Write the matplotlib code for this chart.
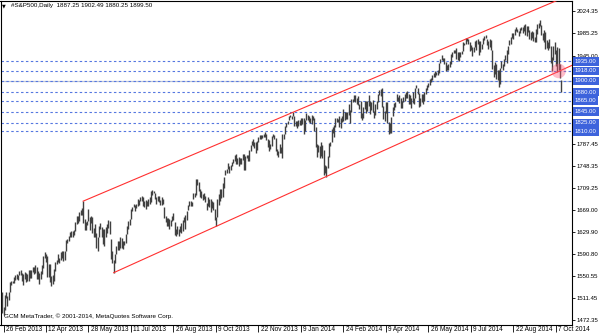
import matplotlib
matplotlib.use("Agg")
import matplotlib.pyplot as plt
import matplotlib.transforms as mtransforms
import numpy as np

# ---------------- data (daily bars, 25 Feb 2013 .. 13 Oct 2014) ----------------
highs = [
    1523, 1496, 1517, 1522,
    1516, 1522, 1540, 1542, 1542, 1549, 1553, 1554, 1553, 1560, 1561, 1556, 1554, 1559, 1556, 1555, 1562, 1561, 1561, 1567,
    1568, 1571, 1568, 1560, 1556, 1560, 1571, 1586, 1594, 1590, 1586, 1572, 1572, 1551, 1553, 1563, 1577, 1580, 1590, 1583, 1594, 1595,
    1595, 1596, 1616, 1617, 1623, 1630, 1632, 1631, 1633, 1648, 1659, 1658, 1665, 1670, 1672, 1685, 1653, 1647, 1650, 1671, 1657, 1659, 1656,
    1637, 1644, 1628, 1620, 1641, 1646, 1638, 1635, 1636, 1638, 1644, 1651, 1650, 1617, 1596, 1580, 1591, 1604, 1613, 1613,
    1621, 1619, 1614, 1613, 1627, 1640, 1649, 1653, 1671, 1675, 1680, 1679, 1680, 1688, 1687, 1693, 1694, 1693, 1686, 1687, 1685, 1688, 1693,
    1703, 1705, 1704, 1700, 1692, 1695, 1694, 1687, 1692, 1688, 1675, 1659, 1654, 1654, 1653, 1652, 1659, 1664, 1648, 1636, 1641, 1636,
    1640, 1646, 1651, 1656, 1660, 1667, 1679, 1685, 1685, 1683, 1700, 1700, 1724, 1725, 1720, 1706, 1703, 1697, 1699, 1694, 1682,
    1692, 1689, 1688, 1686, 1683, 1671, 1657, 1688, 1698, 1706, 1706, 1717, 1728, 1740, 1743, 1754, 1748, 1749, 1755, 1760, 1767, 1770, 1763,
    1764, 1763, 1763, 1769, 1769, 1766, 1768, 1767, 1777, 1786, 1793, 1797, 1790, 1791, 1793, 1800, 1803, 1803, 1803, 1805, 1809,
    1806, 1796, 1795, 1788, 1801, 1806, 1803, 1798, 1778, 1775, 1787, 1782, 1806, 1806, 1819, 1825, 1828, 1838, 1840, 1837, 1844,
    1837, 1829, 1828, 1831, 1831, 1834, 1834, 1834, 1830, 1842, 1839, 1837, 1833, 1840, 1837, 1833, 1817, 1787, 1785, 1783, 1790, 1785,
    1776, 1750, 1747, 1765, 1789, 1791, 1814, 1818, 1821, 1833, 1833, 1832, 1838, 1834, 1837, 1850, 1844, 1844, 1845, 1859,
    1848, 1867, 1867, 1875, 1875, 1869, 1873, 1859, 1865, 1843, 1853, 1865, 1865, 1864, 1875, 1864, 1863, 1866, 1847, 1858, 1864,
    1877, 1884, 1885, 1888, 1855, 1846, 1863, 1863, 1826, 1825, 1835, 1853, 1861, 1863, 1876, 1871, 1875, 1869, 1865, 1872, 1876,
    1880, 1882, 1876, 1875, 1870, 1880, 1870, 1888, 1893, 1888, 1879, 1869, 1877, 1876, 1880, 1887, 1892, 1896, 1903, 1905, 1911, 1915,
    1917, 1916, 1920, 1933, 1940, 1947, 1942, 1942, 1934, 1928, 1931, 1935, 1949, 1951, 1955, 1955, 1959, 1952, 1951, 1952, 1953,
    1970, 1968, 1977, 1977, 1975, 1969, 1964, 1961, 1960, 1971, 1974, 1975, 1971, 1971, 1967, 1977, 1980, 1982, 1976, 1972, 1976, 1974, 1956,
    1928, 1934, 1931, 1920, 1920, 1923, 1936, 1931, 1939, 1946, 1955, 1963, 1974, 1979, 1986, 1985, 1993, 1996, 1993, 1990, 1994,
    1996, 1997, 2000, 2002, 1999, 1999, 1992, 1988, 1989, 1988, 1978, 1993, 2002, 2003, 2010, 2000, 1986, 1991, 1988, 1974, 1970, 1976,
    1963, 1943, 1962, 1969, 1955, 1961, 1959, 1930, 1902.49,
]
lows = [
    1485, 1482, 1491, 1511,
    1498, 1509, 1522, 1535, 1538, 1539, 1544, 1545, 1544, 1552, 1552, 1542, 1535, 1546, 1540, 1543, 1543, 1548, 1548, 1558,
    1555, 1557, 1546, 1545, 1536, 1545, 1554, 1566, 1583, 1576, 1549, 1549, 1541, 1533, 1536, 1542, 1560, 1573, 1576, 1575, 1579, 1584,
    1578, 1580, 1595, 1611, 1614, 1620, 1620, 1621, 1624, 1631, 1644, 1646, 1650, 1661, 1660, 1646, 1633, 1634, 1643, 1650, 1633, 1646, 1628,
    1620, 1621, 1602, 1595, 1620, 1636, 1620, 1608, 1605, 1620, 1628, 1637, 1626, 1581, 1575, 1557, 1574, 1590, 1598, 1598,
    1601, 1602, 1600, 1607, 1610, 1627, 1635, 1643, 1653, 1667, 1674, 1667, 1673, 1676, 1679, 1686, 1686, 1677, 1675, 1671, 1677, 1677, 1680,
    1684, 1696, 1699, 1688, 1680, 1686, 1683, 1678, 1678, 1680, 1654, 1648, 1641, 1641, 1636, 1641, 1650, 1651, 1624, 1623, 1626, 1623,
    1629, 1628, 1632, 1647, 1635, 1652, 1669, 1676, 1677, 1677, 1688, 1693, 1696, 1714, 1704, 1692, 1690, 1687, 1688, 1683, 1670,
    1677, 1675, 1665, 1672, 1670, 1651, 1641, 1656, 1679, 1686, 1691, 1693, 1709, 1731, 1736, 1742, 1735, 1740, 1747, 1753, 1757, 1752, 1751,
    1748, 1751, 1751, 1759, 1741, 1741, 1762, 1757, 1756, 1775, 1785, 1783, 1780, 1772, 1777, 1790, 1796, 1796, 1798, 1799, 1799,
    1794, 1782, 1774, 1778, 1784, 1800, 1796, 1775, 1767, 1764, 1771, 1772, 1763, 1797, 1805, 1817, 1823, 1830, 1835, 1832, 1837,
    1819, 1820, 1815, 1820, 1822, 1821, 1823, 1806, 1810, 1830, 1831, 1826, 1824, 1823, 1830, 1811, 1781, 1764, 1773, 1762, 1765, 1763,
    1731, 1735, 1729, 1744, 1764, 1783, 1791, 1807, 1800, 1817, 1826, 1826, 1818, 1816, 1827, 1828, 1831, 1832, 1832, 1839,
    1825, 1844, 1863, 1865, 1862, 1858, 1857, 1849, 1833, 1831, 1834, 1850, 1842, 1846, 1856, 1841, 1848, 1844, 1833, 1840, 1849,
    1863, 1875, 1874, 1854, 1832, 1828, 1843, 1824, 1805, 1807, 1807, 1837, 1848, 1853, 1864, 1865, 1861, 1851, 1851, 1862, 1864,
    1869, 1869, 1858, 1859, 1851, 1861, 1858, 1869, 1887, 1877, 1853, 1856, 1863, 1859, 1865, 1877, 1884, 1890, 1893, 1899, 1901, 1908,
    1907, 1910, 1910, 1914, 1933, 1938, 1936, 1931, 1917, 1919, 1919, 1925, 1930, 1943, 1950, 1950, 1939, 1938, 1936, 1943, 1948,
    1953, 1964, 1967, 1972, 1967, 1953, 1956, 1944, 1951, 1961, 1956, 1967, 1947, 1952, 1957, 1967, 1973, 1977, 1965, 1957, 1961, 1956, 1922,
    1907, 1912, 1904, 1902, 1890, 1895, 1924, 1919, 1927, 1938, 1932, 1948, 1964, 1967, 1977, 1976, 1983, 1989, 1987, 1981, 1986,
    1991, 1986, 1989, 1983, 1981, 1987, 1976, 1974, 1977, 1971, 1969, 1970, 1984, 1995, 1998, 1982, 1974, 1970, 1957, 1959, 1955, 1959,
    1933, 1917, 1938, 1949, 1926, 1916, 1919, 1905, 1880.25,
]

date_labels = ["26 Feb 2013", "12 Apr 2013", "28 May 2013", "11 Jul 2013", "26 Aug 2013",
               "9 Oct 2013", "22 Nov 2013", "9 Jan 2014", "24 Feb 2014", "9 Apr 2014",
               "26 May 2014", "9 Jul 2014", "22 Aug 2014", "7 Oct 2014"]
date_label_bars = [1, 33, 65, 97, 129, 161, 193, 225, 257, 289, 321, 353, 385, 417]

# right scale: visible labels (the ones hidden behind level boxes are omitted)
price_ticks = [2024.35, 1985.25, 1945.00, 1787.45, 1748.35,
               1709.25, 1669.00, 1629.90, 1590.80, 1550.55, 1511.45, 1472.35]
levels = [1935.00, 1918.00, 1900.00, 1880.00, 1865.00, 1845.00, 1825.00, 1810.00]
bid_price = 1899.50

# channel trend lines: (bar index, price) anchor pairs
upper_anchor = [(61, 1685.0), (219, 1844.0)]
lower_anchor = [(84, 1557.0), (244, 1729.0)]
highlight = (419, 1918.0)

title = "#S&P500,Daily  1887.25 1902.49 1880.25 1899.50"
watermark = "GCM MetaTrader, \u00a9 2001-2014, MetaQuotes Software Corp."

# ---------------- figure ----------------
W, H = 600, 333
fig = plt.figure(figsize=(W / 100, H / 100), dpi=100)
ax = fig.add_axes([0.5 / W, (H - 325) / H, 571.5 / W, 324.5 / H])
XMIN, XMAX = -1.26, 429.1
ax.set_xlim(XMIN, XMAX)
ax.set_ylim(1463.4, 2044.0)

n = min(len(highs), len(lows))
x = np.arange(n)
ax.vlines(x, lows[:n], highs[:n], colors="#404040", lw=1.0, zorder=3)

# level lines
ax.axhline(bid_price, color="#c0c8d8", lw=0.9, zorder=1)
for lv in levels:
    ax.axhline(lv, color="#5577e0", lw=0.8, ls=(0, (2.2, 2.2)), zorder=2)

# trend lines (rays to the right edge)
for (x0, y0), (x1, y1) in (upper_anchor, lower_anchor):
    slope = (y1 - y0) / (x1 - x0)
    ax.plot([x0, XMAX], [y0, y0 + slope * (XMAX - x0)], color="#ff3030", lw=0.8, zorder=4)

ax.scatter([highlight[0]], [highlight[1]], s=110, color="#ff5a78", alpha=0.4,
           edgecolors="none", zorder=5)

# axes styling
for sp in ax.spines.values():
    sp.set_color("black")
    sp.set_linewidth(0.8)
ax.yaxis.tick_right()
ax.set_yticks(price_ticks)
ax.set_yticklabels([f"{p:.2f}" for p in price_ticks], family="Liberation Sans")
ax.tick_params(axis="y", length=2.5, width=0.6, pad=0.8, labelsize=4.3, colors="black")

ax.set_xticks(date_label_bars)
ax.set_xticklabels(date_labels, family="Liberation Sans")
ax.tick_params(axis="x", length=5, width=0.6, pad=-4.2, labelsize=4.7, colors="black")
offset = mtransforms.ScaledTranslation(2.5 / 100, 0, fig.dpi_scale_trans)
for lab in ax.get_xticklabels():
    lab.set_ha("left")
    lab.set_transform(lab.get_transform() + offset)

# level price boxes on the right scale
btr = mtransforms.blended_transform_factory(ax.transAxes, ax.transData)
for lv in levels:
    ax.text(1.0 + 3 / 571.5, lv, f"{lv:.2f}", transform=btr, ha="left", va="center",
            fontsize=4.3, family="Liberation Sans", color="white", clip_on=False, zorder=10,
            bbox=dict(boxstyle="square,pad=0.3", fc="#3d63dc", ec="none"))

# header and watermark
fig.text(2 / W, 1 - 6 / H, "\u25bc", fontsize=3.5, va="center", ha="left", color="black")
fig.text(11 / W, 1 - 6 / H, title, fontsize=4.5, va="center", ha="left",
         family="Liberation Sans", color="black")
fig.text(4 / W, 1 - 316 / H, watermark, fontsize=4.5, va="center", ha="left",
         family="Liberation Sans", color="black")

fig.savefig("out.png", dpi=100)
